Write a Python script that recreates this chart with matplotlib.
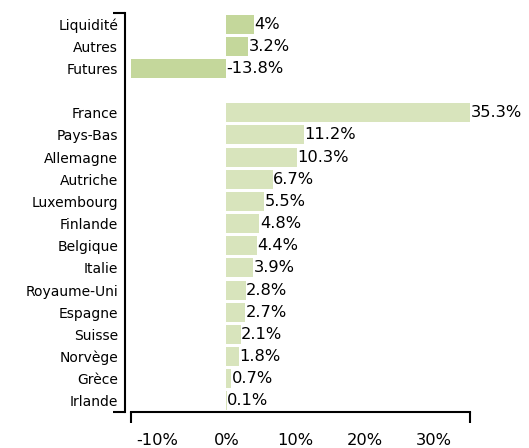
import matplotlib
matplotlib.use("Agg")
import matplotlib.pyplot as plt
import numpy as np

plt.rcParams["font.family"] = ["DejaVu Sans"]

# Données
categories_top = ["Liquidité", "Autres", "Futures"]
values_top = [4.0, 3.2, -13.8]

categories_pays = ["France", "Pays-Bas", "Allemagne", "Autriche", "Luxembourg",
                   "Finlande", "Belgique", "Italie", "Royaume-Uni", "Espagne",
                   "Suisse", "Norvège", "Grèce", "Irlande"]
values_pays = [35.3, 11.2, 10.3, 6.7, 5.5, 4.8, 4.4, 3.9, 2.8, 2.7, 2.1, 1.8, 0.7, 0.1]

x_ticks = [-10, 0, 10, 20, 30]

color_top = "#c4d79b"
color_pays = "#d8e4bc"

labels = categories_top + [""] + categories_pays
pos_top = np.arange(len(categories_top))
pos_pays = np.arange(len(categories_pays)) + len(categories_top) + 1

fig = plt.figure(figsize=(5.29, 4.48), dpi=100)
ax = fig.add_axes([131 / 529, 1 - 412 / 448, 339 / 529, 399 / 448])

ax.barh(pos_top, values_top, height=0.86, color=color_top)
ax.barh(pos_pays, values_pays, height=0.86, color=color_pays)

fs = 11.7
for p, v in zip(list(pos_top) + list(pos_pays), values_top + values_pays):
    ax.text(max(v, 0) + 0.05, p, f"{v:g}%", va="center", ha="left", fontsize=fs)

xmin = min(values_top + values_pays)
xmax = max(values_top + values_pays)
ax.set_xlim(xmin, xmax)
ax.set_ylim(len(labels) - 0.5, -0.5)

ax.set_yticks(np.arange(len(labels)))
ax.set_yticklabels(labels, fontsize=fs)
ax.set_xticks(x_ticks)
ax.set_xticklabels([f"{t}%" for t in x_ticks], fontsize=fs)
ax.tick_params(axis="y", length=0, pad=5)
ax.tick_params(axis="x", length=0, pad=15)

# petites marques aux extrémités des axes
ax.set_yticks([-0.5, len(labels) - 0.5], minor=True)
ax.set_xticks([xmin, xmax], minor=True)
ax.tick_params(axis="y", which="minor", length=8.5, width=1.5, direction="out")
ax.tick_params(axis="x", which="minor", length=8, width=1.5, direction="out")

for s in ["top", "right"]:
    ax.spines[s].set_visible(False)
ax.spines["left"].set_position(("outward", 4.3))
ax.spines["left"].set_linewidth(1.5)
ax.spines["bottom"].set_linewidth(1.5)

fig.savefig("out.png", dpi=100)
